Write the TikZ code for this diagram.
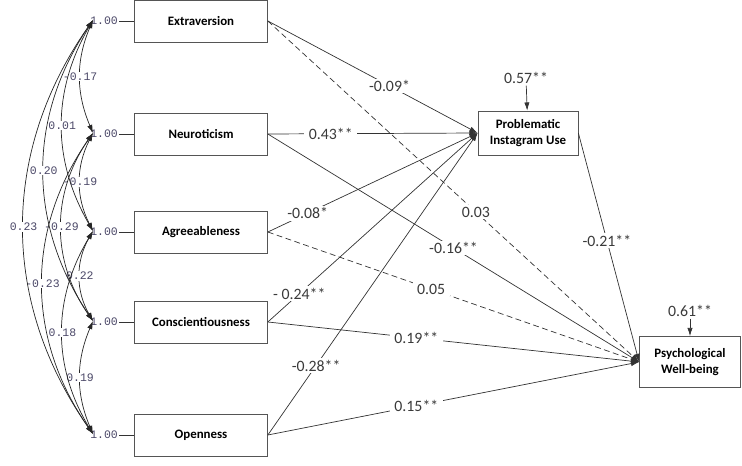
\documentclass[tikz,border=0pt]{standalone}
\usepackage{fontspec}
\setmainfont{Carlito}
\newfontfamily\amosfont{Liberation Mono}
\usetikzlibrary{arrows.meta,positioning}
\definecolor{boxgray}{HTML}{555555}
\definecolor{coefgray}{HTML}{3A3A3A}
\definecolor{amospurple}{HTML}{4B4868}

\begin{document}
\begin{tikzpicture}[x=0.03cm, y=0.03cm, >={Latex[length=7pt,width=4.5pt]},
    varbox/.style={draw=boxgray, line width=0.6pt, fill=white,
        minimum width=3.99cm, minimum height=1.26cm, inner sep=1pt,
        font=\bfseries\fontsize{11}{13.5}\selectfont},
    endobox/.style={varbox, minimum width=3cm, minimum height=1.32cm, align=center},
    effect/.style={->, draw=black!80, line width=0.6pt},
    effectdash/.style={effect, dash pattern=on 5pt off 3pt},
    coef/.style={fill=white, text=coefgray, inner xsep=4pt, inner ysep=1.5pt,
        font=\fontsize{13.5}{15}\selectfont},
    cov/.style={<->, draw=black!85, line width=0.6pt},
    covlab/.style={fill=white, text=amospurple, inner sep=0.8pt,
        font=\amosfont\fontsize{9.8}{11}\selectfont}]

\useasboundingbox (0,0) rectangle (742,465);

%%% ---------- VARIABLES ----------
\node[varbox] (ext) at (201,444) {Extraversion};
\node[varbox] (neu) at (201,331) {Neuroticism};
\node[varbox] (agr) at (201,233) {Agreeableness};
\node[varbox] (con) at (201,143) {Conscientiousness};
\node[varbox] (ope) at (201,30)  {Openness};

\node[endobox] (piu) at (528,332) {Problematic\\Instagram Use};
\node[endobox, minimum width=3.03cm, minimum height=1.53cm] (pwb) at (690,103) {Psychological\\Well-being};

% Varianzas
\foreach \v/\y in {ext/444, neu/331, agr/233, con/143, ope/30} {
    \node[covlab, fill=none, anchor=east] (one\v) at (119,\y) {1.00};
    \coordinate (c\v) at (93,\y+1);
    \draw[black!80, line width=0.6pt] (one\v.east) -- (\v.west);
}

%%% ---------- COVARIANZAS ----------
\draw[cov] (cext) to[bend right=23] node[covlab] {-0.17} (cneu);
\draw[cov] (cneu) to[bend right=27] node[covlab] {-0.19} (cagr);
\draw[cov] (cagr) to[bend right=30] node[covlab] {0.22}  (ccon);
\draw[cov] (ccon) to[bend right=23] node[covlab] {0.19}  (cope);
\draw[cov] (cext) to[bend right=30] node[covlab] {0.01}  (cagr);
\draw[cov] (cneu) to[bend right=35] node[covlab] {-0.29} (ccon);
\draw[cov] (cagr) to[bend right=31] node[covlab] {0.18}  (cope);
\draw[cov] (cext) to[bend right=34] node[covlab] {0.20}  (ccon);
\draw[cov] (cneu) to[bend right=35] node[covlab] {-0.23} (cope);
\draw[cov] (cext) to[bend right=35] node[covlab] {0.23}  (cope);

%%% ---------- EFECTOS ----------
\draw[effect]     (ext.east) -- node[coef, pos=0.58] {-0.09*}   (piu.west);
\draw[effect]     (neu.east) -- node[coef, pos=0.30] {0.43**}   (piu.west);
\draw[effect]     (agr.east) -- node[coef, pos=0.19] {-0.08*}   (piu.west);
\draw[effect]     (con.east) -- node[coef, pos=0.15] {- 0.24**} (piu.west);
\draw[effect]     (ope.east) -- node[coef, pos=0.23] {-0.28**}  (piu.west);

\draw[effectdash] (ext.east) -- node[coef, pos=0.56] {0.03}     (pwb.west);
\draw[effect]     (neu.east) -- node[coef, pos=0.50] {-0.16**}  (pwb.west);
\draw[effectdash] (agr.east) -- node[coef, pos=0.44] {0.05}     (pwb.west);
\draw[effect]     (con.east) -- node[coef, pos=0.40] {0.19**}   (pwb.west);
\draw[effect]     (ope.east) -- node[coef, pos=0.40] {0.15**}   (pwb.west);

\draw[effect]     (piu.east) -- node[coef, pos=0.47] {-0.21**}  (pwb.west);

% Residuos
\node[coef, fill=none] (respiu) at (526,387) {0.57**};
\node[coef, fill=none] (respwb) at (690,154) {0.61**};
\draw[effect] (respiu) -- (piu);
\draw[effect] (respwb) -- (pwb);

\end{tikzpicture}
\end{document}
